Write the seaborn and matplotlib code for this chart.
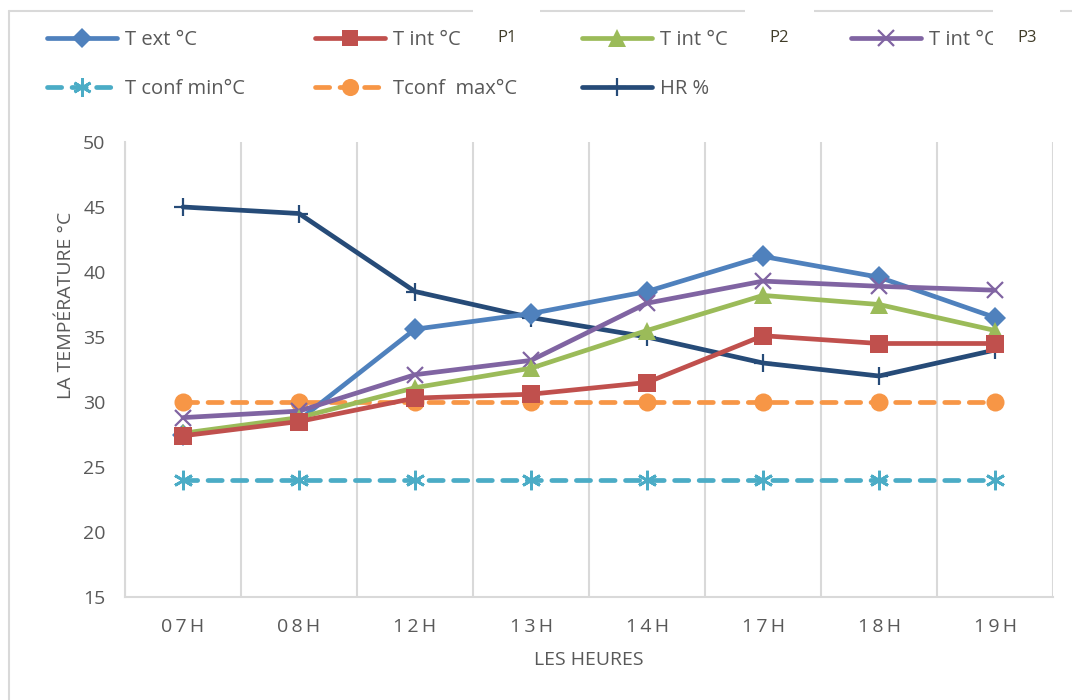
import matplotlib
matplotlib.use("Agg")
import matplotlib.pyplot as plt
from matplotlib.lines import Line2D
from matplotlib.patches import Rectangle
import seaborn as sns
import pandas as pd

# Hourly readings
heures = ["07H", "08H", "12H", "13H", "14H", "17H", "18H", "19H"]
t_ext = [27.5, 28.6, 35.6, 36.8, 38.5, 41.2, 39.6, 36.5]
t_int_p1 = [27.4, 28.5, 30.3, 30.6, 31.5, 35.1, 34.5, 34.5]
t_int_p2 = [27.6, 28.8, 31.1, 32.6, 35.5, 38.2, 37.5, 35.5]
t_int_p3 = [28.8, 29.3, 32.1, 33.2, 37.6, 39.3, 38.9, 38.6]
t_conf_min = [24, 24, 24, 24, 24, 24, 24, 24]
t_conf_max = [30, 30, 30, 30, 30, 30, 30, 30]
hr = [45.0, 44.5, 38.5, 36.5, 35.0, 33.0, 32.0, 34.0]

labels = ["T ext °C", "T int °C", "T int °C", "T int °C",
          "T conf min°C", "Tconf  max°C", "HR %"]
probes = ["P1", "P2", "P3"]
y_ticks = [15, 20, 25, 30, 35, 40, 45, 50]

sns.set_theme(style="white")
plt.rcParams["font.family"] = ["Open Sans", "DejaVu Sans"]

TXT = "#595959"
GRID = "#D9D9D9"

fig = plt.figure(figsize=(10.72, 7.0), dpi=100)
ax = fig.add_axes([125 / 1072, 1 - 597 / 700, (1053 - 125) / 1072, (597 - 142) / 700])

x_pos = list(range(len(heures)))
DASH = (0, (3, 2.2))
series = [
    (4, t_conf_min, dict(color="#4BACC6", marker=(6, 2, 0), markersize=14, linestyle=DASH, mew=2.0)),
    (5, t_conf_max, dict(color="#F79646", marker="o", markersize=13, linestyle=DASH, mew=0)),
    (6, hr, dict(color="#264B78", marker="+", markersize=13, linestyle="-", mew=1.6)),
    (0, t_ext, dict(color="#4F81BD", marker="D", markersize=11, linestyle="-", mew=0)),
    (3, t_int_p3, dict(color="#8064A2", marker="x", markersize=12, linestyle="-", mew=1.6)),
    (2, t_int_p2, dict(color="#9BBB59", marker="^", markersize=13, linestyle="-", mew=0)),
    (1, t_int_p1, dict(color="#C0504D", marker="s", markersize=12.5, linestyle="-", mew=0)),
]

handles = {}
for idx, vals, st in series:
    df = pd.DataFrame({"x": x_pos, "y": vals})
    sns.lineplot(data=df, x="x", y="y", ax=ax, color=st["color"], lw=3.4,
                 marker=st["marker"], markersize=st["markersize"],
                 markeredgewidth=st["mew"], markeredgecolor=st["color"],
                 linestyle=st["linestyle"], dash_capstyle="round",
                 solid_capstyle="round", legend=False, clip_on=False)
    handles[idx] = Line2D(
        [], [], color=st["color"], lw=3.4, marker=st["marker"],
        markersize=st["markersize"] * 0.95, markeredgewidth=st["mew"],
        markeredgecolor=st["color"], linestyle=st["linestyle"],
        dash_capstyle="round", solid_capstyle="round")

ax.set_xlim(-0.5, len(heures) - 0.5)
ax.set_ylim(15, 50)
ax.set_yticks(y_ticks)
ax.set_xticks(x_pos)
ax.set_xticklabels(["\u2009".join(h) for h in heures])
ax.set_xticks([i + 0.5 for i in range(-1, len(heures))], minor=True)
ax.grid(False)
ax.grid(True, which="minor", axis="x", color=GRID, lw=1.5)
ax.tick_params(axis="both", which="both", length=0, colors=TXT, labelsize=14)
ax.tick_params(axis="x", pad=15)
ax.tick_params(axis="y", pad=14)
for side in ["top", "right"]:
    ax.spines[side].set_visible(False)
for side in ["left", "bottom"]:
    ax.spines[side].set_color(GRID)
    ax.spines[side].set_linewidth(1.5)

ax.set_xlabel("LES HEURES", color=TXT, fontsize=14, labelpad=11)
ax.set_ylabel("LA TEMPÉRATURE °C", color=TXT, fontsize=14)
ax.yaxis.set_label_coords(-0.054, 0.64)

# Outer chart border (left and top edges)
fig.add_artist(Line2D([9 / 1072, 9 / 1072], [0, 1 - 11 / 700], color=GRID, lw=1.5))
fig.add_artist(Line2D([9 / 1072, 1], [1 - 11 / 700, 1 - 11 / 700], color=GRID, lw=1.5))

# Legend: one column per block, two rows
col_x = [47, 315, 582, 851]
cols = [[0, 4], [1, 5], [2, 6], [3]]
for cx, idxs in zip(col_x, cols):
    fig.legend([handles[i] for i in idxs], [labels[i] for i in idxs],
               loc="upper left", bbox_to_anchor=(cx / 1072, 1 - 30 / 700),
               frameon=False, fontsize=14.5, labelcolor=TXT,
               handlelength=3.5, handletextpad=0.35, labelspacing=1.45,
               borderpad=0, borderaxespad=0)

# Probe labels on white boxes over the border
for (x0, x1), txt in zip([(473, 540), (745, 814), (993, 1060)], probes):
    fig.add_artist(Rectangle((x0 / 1072, 1 - 62 / 700), (x1 - x0) / 1072, 56 / 700,
                             transform=fig.transFigure, facecolor="white",
                             edgecolor="none", zorder=10))
    fig.text((x0 + 24) / 1072, 1 - 38 / 700, txt, fontsize=12, color="#403C28",
             va="center", ha="left", zorder=11)

fig.savefig("out.png", dpi=100, facecolor="white")
